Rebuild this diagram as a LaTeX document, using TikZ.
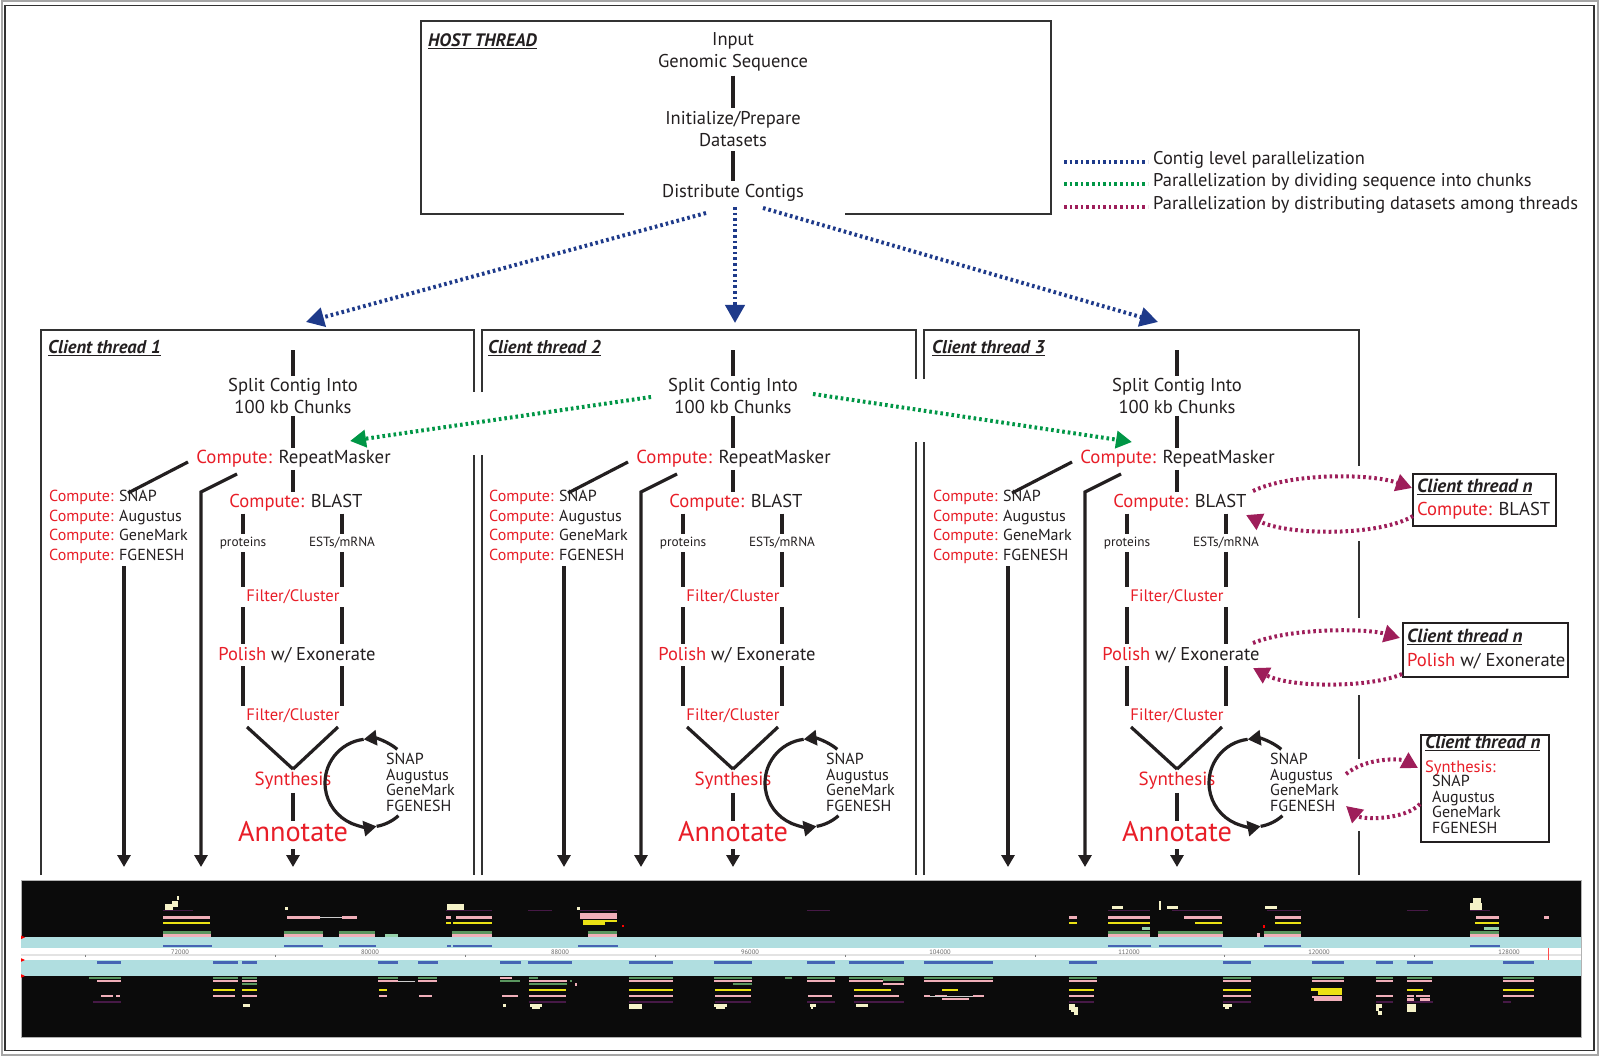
\documentclass[tikz,border=0pt]{standalone}
\usepackage{fontspec}
\setmainfont{PT Sans}
\usetikzlibrary{arrows.meta}
\definecolor{cred}{RGB}{232,30,40}
\definecolor{ctext}{RGB}{35,31,32}
\definecolor{cnavy}{RGB}{30,58,138}
\definecolor{cgreen}{RGB}{0,150,70}
\definecolor{cpink}{RGB}{158,30,90}
\definecolor{cframe}{RGB}{50,50,50}
\definecolor{cblack}{RGB}{11,11,11}
\definecolor{ccyan}{RGB}{176,222,224}
\definecolor{cblue}{RGB}{70,100,180}
\definecolor{cpinkb}{RGB}{240,175,185}
\definecolor{cyel}{RGB}{235,225,20}
\definecolor{cgreenb}{RGB}{90,150,95}
\definecolor{ccream}{RGB}{245,242,200}
\definecolor{cpurp}{RGB}{70,25,70}
\definecolor{clgreen}{RGB}{150,210,170}
\newcommand\rd[1]{\textcolor{cred}{#1}}
\newcommand\fsz[2]{\fontsize{#1}{#2}\selectfont}
\newcommand\ttl[1]{\textbf{\textit{\underline{#1}}}}
% genome browser feature helpers
\newcommand\rx[5]{\fill[#1] (#2,#3) rectangle (#4,#5);}
\newcommand\tcr[2]{\fill[ccream] (#1,906.3) rectangle (#2,909.2);}
\newcommand\tpu[2]{\fill[cpurp] (#1,910.1) rectangle (#2,911.4);}
\newcommand\tpk[2]{\fill[cpinkb] (#1,916.2) rectangle (#2,918.8);}
\newcommand\tye[2]{\fill[cyel] (#1,921.7) rectangle (#2,924.3);}
\newcommand\tgp[2]{\fill[cgreenb] (#1,931) rectangle (#2,933.8);\fill[cpinkb] (#1,934) rectangle (#2,936.8);}
\newcommand\tbl[2]{\fill[cblue] (#1,944.6) rectangle (#2,947.4);}
\newcommand\bbl[2]{\fill[cblue] (#1,961.1) rectangle (#2,963.9);}
\newcommand\bgp[2]{\fill[cgreenb] (#1,976.6) rectangle (#2,979.4);\fill[cpinkb] (#1,979.7) rectangle (#2,982.4);}
\newcommand\bye[2]{\fill[cyel] (#1,988.7) rectangle (#2,991.3);}
\newcommand\bpk[2]{\fill[cpinkb] (#1,994.7) rectangle (#2,997.3);}
\newcommand\bpu[2]{\fill[cpurp] (#1,1001.3) rectangle (#2,1002.7);}
\newcommand\bcr[2]{\fill[ccream] (#1,1003.7) rectangle (#2,1006.5);}

\tikzset{
 txt/.style={text=ctext, inner sep=3pt, align=center},
 flow/.style={line width=3.2pt, draw=ctext},
 flowarr/.style={flow, -{Triangle[width=13pt,length=12pt]}},
 loopar/.style={flow, -{Triangle[width=15pt,length=13pt]}},
 frame/.style={line width=2pt, draw=cframe},
 bdots/.style={line width=4pt, draw=cnavy, dash pattern=on 2.6pt off 3pt},
 bdotar/.style={bdots, -{Triangle[width=19pt,length=18pt]}},
 gdots/.style={line width=4pt, draw=cgreen, dash pattern=on 2.6pt off 3pt},
 gdotar/.style={gdots, -{Triangle[width=17pt,length=16pt]}},
 pdots/.style={line width=4pt, draw=cpink, dash pattern=on 2.6pt off 3pt},
 pdotar/.style={pdots, -{Triangle[width=17pt,length=16pt]}},
 nbox/.style={draw=ctext, line width=1.8pt, inner sep=0pt},
 ntxt/.style={text=ctext, anchor=west, inner sep=0pt, align=left},
 legtxt/.style={text=ctext, anchor=west, inner sep=0pt, font=\fsz{18.4}{20}},
}

\newcommand\ClientThread[3]{%
\begin{scope}[xshift=#1]
 \node[txt, anchor=west, font=\fsz{18.5}{20}] (ttl#2) at (45,348) {\ttl{Client thread #3}};
 \coordinate (top#2) at (293,350);
 \coordinate (cc#2) at (293,0);
 \coordinate (cl#2) at (243,0);
 \coordinate (cr#2) at (342,0);
 \node[txt, font=\fsz{18.6}{22}, inner sep=2pt] (split#2) at (293,396) {Split Contig Into\\100 kb Chunks};
 \draw[flow] (top#2) -- (split#2.north);
 \node[txt, font=\fsz{18.8}{20}, inner ysep=2pt] (rm#2) at (293.5,459) {\rd{Compute:} RepeatMasker};
 \draw[flow] (split#2.south) -- (rm#2.north -| split#2.south);
 \node[txt, font=\fsz{18.6}{20}, inner ysep=2pt] (blast#2) at (296,503) {\rd{Compute:} BLAST};
 \draw[flow] (rm#2.south -| cc#2) -- (blast#2.north -| cc#2);
 \node[txt, font=\fsz{13.3}{15}] (prot#2) at (243,543) {proteins};
 \node[txt, font=\fsz{13.3}{15}] (est#2) at (342,543) {ESTs/mRNA};
 \node[txt, font=\fsz{16.6}{18}] (fa#2) at (293,597) {\rd{Filter/Cluster}};
 \node[txt, font=\fsz{18.5}{20}, inner ysep=3pt] (pol#2) at (297,655) {\rd{Polish} w/ Exonerate};
 \node[txt, font=\fsz{16.6}{18}] (fb#2) at (293,716) {\rd{Filter/Cluster}};
 \node[txt, font=\fsz{19}{21}] (syn#2) at (293,781) {\rd{Synthesis}};
 \node[txt, font=\fsz{28.3}{30}, inner ysep=1pt] (ann#2) at (293,832) {\rd{Annotate}};
 \foreach \c/\n in {cl#2/prot#2, cr#2/est#2} {
  \draw[flow] (blast#2.south -| \c) -- (\n.north);
  \draw[flow] (\n.south) -- (fa#2.north -| \c);
  \draw[flow] (fa#2.south -| \c) -- (pol#2.north -| \c);
  \draw[flow] (pol#2.south -| \c) -- (fb#2.north -| \c);
 }
 \coordinate (vl#2) at (247,727);
 \coordinate (vr#2) at (338,727);
 \draw[flow] (vl#2) -- (syn#2.north);
 \draw[flow] (vr#2) -- (syn#2.north);
 \draw[flow] (syn#2.south) -- (ann#2.north);
 \coordinate (aa#2) at (293,849);
 \coordinate (ae#2) at (293,867);
 \draw[flowarr] (aa#2) -- (ae#2);
 % gene predictor branch
 \node[txt, anchor=north west, align=left, font=\fsz{16}{19.6}] (pred#2) at (46,487)
   {\rd{Compute:} SNAP\\\rd{Compute:} Augustus\\\rd{Compute:} GeneMark\\\rd{Compute:} FGENESH};
 \coordinate (da#2) at (188,462);
 \coordinate (db#2) at (128,493);
 \draw[flow] (da#2) -- (db#2);
 \coordinate (pa#2) at (124,566);
 \coordinate (pe#2) at (124,867);
 \draw[flowarr] (pa#2) -- (pe#2);
 \coordinate (ea#2) at (237,474);
 \coordinate (eb#2) at (201,492);
 \coordinate (ee#2) at (201,867);
 \draw[flowarr, line join=miter] (ea#2) -- (eb#2) -- (ee#2);
 % synthesis loop
 \coordinate (lc#2) at (369,783);
 \draw[loopar] (lc#2) ++(-50:44) arc[start angle=-50, end angle=-97, radius=44];
 \draw[loopar] (lc#2) ++(-97:44) arc[start angle=-97, end angle=-280, radius=44];
 \draw[flow] (lc#2) ++(-280:44) arc[start angle=-280, end angle=-312, radius=44];
 \node[txt, anchor=north west, align=left, font=\fsz{16}{15.7}] (gl#2) at (383,750)
   {SNAP\\Augustus\\GeneMark\\FGENESH};
\end{scope}}

\begin{document}
\begin{tikzpicture}[x=1pt,y=-1pt]
\useasboundingbox (0,0) rectangle (1600,1056);
\fill[white] (0,0) rectangle (1600,1056);
% outer frame
\draw[line width=2pt, draw=gray!70] (1.5,1.5) rectangle (1598,1054.5);
\draw[line width=1.5pt, draw=cframe] (5,5.5) rectangle (1594,1050.5);

% host thread
\draw[frame] (624,214) -- (421,214) -- (421,21) -- (1051,21) -- (1051,214) -- (845,214);
\node[txt, anchor=west, font=\fsz{18}{20}] (host) at (425,41) {\ttl{HOST THREAD}};
\node[txt, font=\fsz{18.5}{22}, inner ysep=4pt] (inp) at (733,52) {Input\\Genomic Sequence};
\node[txt, font=\fsz{18.5}{22}, inner ysep=4pt] (ini) at (733,129.5) {Initialize/Prepare\\Datasets};
\node[txt, font=\fsz{18.5}{22}, inner ysep=3pt] (dis) at (733,193) {Distribute Contigs};
\draw[flow] (inp.south) -- (ini.north);
\draw[flow] (ini.south) -- (dis.north);

% legend
\coordinate (lb0) at (1064,162); \coordinate (lb1) at (1148,162);
\coordinate (lg0) at (1064,184); \coordinate (lg1) at (1148,184);
\coordinate (lp0) at (1064,207); \coordinate (lp1) at (1148,207);
\draw[bdots] (lb0) -- (lb1);
\draw[gdots] (lg0) -- (lg1);
\draw[pdots] (lp0) -- (lp1);
\node[legtxt] (lbt) at (1153,160) {Contig level parallelization};
\node[legtxt] (lgt) at (1153,182) {Parallelization by dividing sequence into chunks};
\node[legtxt] (lpt) at (1153,205) {Parallelization by distributing datasets among threads};

% client thread boxes
\draw[frame] (41,875) -- (41,330) -- (474,330) -- (474,392);
\draw[frame] (474,455) -- (474,875);
\draw[frame] (482,875) -- (482,455);
\draw[frame] (482,392) -- (482,330) -- (916,330) -- (916,379);
\draw[frame] (916,442) -- (916,875);
\draw[frame] (924,875) -- (924,442);
\draw[frame] (924,379) -- (924,330) -- (1359,330) -- (1359,466);
\draw[frame] (1359,541) -- (1359,618);
\draw[frame] (1359,695) -- (1359,759);
\draw[frame] (1359,831) -- (1359,875);

\ClientThread{0pt}{A}{1}
\ClientThread{440pt}{B}{2}
\ClientThread{884pt}{C}{3}

% blue arrows
\coordinate (bl0) at (706,213); \coordinate (bl1) at (306,322);
\coordinate (bm0) at (735,207); \coordinate (bm1) at (735,323);
\coordinate (br0) at (763,208); \coordinate (br1) at (1158,322);
\draw[bdotar] (bl0) -- (bl1);
\draw[bdotar] (bm0) -- (bm1);
\draw[bdotar] (br0) -- (br1);

% green arrows
\coordinate (g0) at (651,397); \coordinate (g1) at (350,441);
\coordinate (g2) at (813,394); \coordinate (g3) at (1132,442);
\draw[gdotar] (g0) -- (g1);
\draw[gdotar] (g2) -- (g3);

% client thread n boxes
\node[nbox, minimum width=143pt, minimum height=52pt] (n1) at (1484.5,500) {};
\node[ntxt, font=\fsz{19}{20}] (n1t) at (1417,487) {\ttl{Client thread n}};
\node[ntxt, font=\fsz{18.6}{20}] (n1b) at (1417,511) {\rd{Compute:} BLAST};
\node[nbox, minimum width=165pt, minimum height=54pt] (n2) at (1485.5,650) {};
\node[ntxt, font=\fsz{19}{20}] (n2t) at (1407,637) {\ttl{Client thread n}};
\node[ntxt, font=\fsz{18.6}{20}] (n2b) at (1407,661) {\rd{Polish} w/ Exonerate};
\node[nbox, minimum width=128pt, minimum height=107pt] (n3) at (1485,788.5) {};
\node[ntxt, font=\fsz{19}{20}] (n3t) at (1425,743) {\ttl{Client thread n}};
\node[ntxt, font=\fsz{16.5}{18}] (n3s) at (1425,768) {\rd{Synthesis:}};
\node[ntxt, anchor=north west, font=\fsz{16}{15.6}] (n3l) at (1432,775) {SNAP\\Augustus\\GeneMark\\FGENESH};

% pink arrows
\coordinate (pb0) at (1253,491); \coordinate (pb1) at (1412,488);
\coordinate (pb2) at (1413,516); \coordinate (pb3) at (1246,515);
\draw[pdotar] (pb0) .. controls (1290,473) and (1370,473) .. (pb1);
\draw[pdotar] (pb2) .. controls (1380,536) and (1290,536) .. (pb3);
\coordinate (pp0) at (1253,643); \coordinate (pp1) at (1400,638);
\coordinate (pp2) at (1402,674); \coordinate (pp3) at (1253,668);
\draw[pdotar] (pp0) .. controls (1290,628) and (1365,628) .. (pp1);
\draw[pdotar] (pp2) .. controls (1370,688) and (1290,688) .. (pp3);
\coordinate (ps0) at (1346,774); \coordinate (ps1) at (1418,768);
\coordinate (ps2) at (1420,804); \coordinate (ps3) at (1346,806);
\draw[pdotar] (ps0) .. controls (1365,758) and (1400,758) .. (ps1);
\draw[pdotar] (ps2) .. controls (1405,820) and (1362,820) .. (ps3);

% genome browser panel
\fill[cblack] (21,880) rectangle (1581,1037);
\draw[gray!60, line width=0.8pt] (21,880) rectangle (1581,1037);
\fill[ccyan] (21,937.3) rectangle (1581,947.7);
\fill[white] (21,947.7) rectangle (1581,960);
\fill[gray!22] (21,954.4) rectangle (1581,956.4);
\fill[ccyan] (21,960) rectangle (1581,976);
\fill[red] (21,935.5) -- (25,937.3) -- (21,939.1) -- cycle;
\fill[red] (21,958.2) -- (25,960) -- (21,961.8) -- cycle;
\fill[red] (21,974.2) -- (25,976) -- (21,977.8) -- cycle;
\draw[red!70, line width=0.8pt] (1548,948) -- (1548,960);
\foreach \t in {85,275,465,655,845,1035,1224,1414} {\draw[gray, line width=0.5pt] (\t,954.5) -- (\t,956.5);}
\foreach \t/\l in {180/72000,370/80000,560/88000,750/96000,940/104000,1129/112000,1319/120000,1509/128000}
 {\node[text=gray!80!black, font=\fsz{6.5}{7}, inner sep=0pt] at (\t,952.3) {\l};}
% top strand
\rx{ccream}{165}{904}{173}{910}\rx{ccream}{172}{901}{178}{907}\rx{ccream}{177}{896}{179}{900}
\tpu{163}{193}\tpk{163}{210}\tye{163}{210}\tgp{163}{211}\tbl{163}{212}
\rx{ccream}{285}{906.5}{287.5}{909.5}\tpk{287}{320}\rx{gray!40}{320}{917}{342}{918}\tpk{342}{357}
\tgp{284}{323}\tgp{339}{375}\tbl{284}{323}\tbl{339}{376}\rx{clgreen}{385}{934}{398}{936.8}
\rx{ccream}{447}{904}{464}{909.5}\tpu{446}{492}\tpk{446}{451}\tpk{456}{492}\tye{446}{451}\tye{453}{492}
\tgp{452}{492}\tbl{447}{451}\tbl{453}{492}
\tpu{528}{552}
\rx{ccream}{577}{906.5}{580}{909.5}\tpu{580}{617}\rx{cpinkb}{580}{913}{617}{915.6}\tpk{580}{617}
\rx{cyel}{583}{919.6}{617}{922}\rx{cyel}{583}{922.3}{605}{924.6}\tgp{588}{617}\tbl{578}{618}
\rx{red}{622}{925}{624}{927}
\tpu{807}{830}\tpk{1069}{1077}\tye{1069}{1077}
\tcr{1112}{1123}\tpu{1108}{1150}\tpk{1108}{1150}\tye{1108}{1150}\rx{clgreen}{1142}{927}{1150}{929.6}
\tgp{1108}{1150}\tbl{1108}{1151}
\rx{ccream}{1159}{901}{1161}{910}\tcr{1167}{1178}\tpu{1172}{1220}\tpk{1184}{1222}\tye{1195}{1222}
\tgp{1158}{1223}\tbl{1159}{1222}
\tcr{1265}{1277}\tpu{1267}{1301}\tpk{1275}{1301}\tye{1275}{1301}\rx{red}{1263}{925}{1265}{927.5}
\rx{cpinkb}{1257}{933}{1260}{937}\tgp{1264}{1301}\tbl{1264}{1301}
\tpu{1407}{1428}
\rx{ccream}{1470}{903}{1482}{909.5}\rx{ccream}{1473}{898}{1481}{903}\tpu{1470}{1490}\tpk{1476}{1499}
\tye{1475}{1499}\rx{clgreen}{1484}{927}{1499}{930}\tgp{1470}{1499}\tbl{1470}{1500}\tpk{1544}{1549}
% bottom strand
\bbl{97}{121}\rx{cgreenb}{89}{976.6}{121}{979.4}\rx{cpinkb}{97}{979.7}{121}{982.4}\bpk{101}{113}\bpk{116}{120}\bpu{93}{121}
\bbl{213}{238}\bgp{213}{238}\bye{213}{235}\bpk{213}{235}
\bbl{242}{257}\bgp{242}{257}\rx{cgreenb}{242}{982.6}{257}{985.2}\bye{242}{257}\bpk{242}{257}\bcr{243}{250}
\bbl{378}{398}\bgp{378}{398}\rx{gray!40}{398}{980.6}{415}{981.4}\bye{379}{387}\bpk{379}{387}
\bbl{418}{438}\bgp{418}{437}\bpk{419}{432}
\bbl{500}{521}\rx{cpinkb}{500}{976.6}{512}{979.4}\rx{cgreenb}{500}{979.7}{520}{982.4}\bpk{502}{518}\rx{ccream}{503}{1003.7}{506}{1006.5}
\bbl{528}{572}\rx{cgreenb}{529}{976.6}{538}{979.4}\rx{cpinkb}{529}{979.7}{567}{982.4}\rx{cgreenb}{529}{982.6}{567}{985.2}
\rx{cgreenb}{570}{979.7}{572}{982}\rx{cpinkb}{575}{983}{577}{985.5}\bye{529}{566}\bpk{529}{566}\bpu{529}{566}
\bcr{530}{542}\rx{ccream}{532}{1006.5}{540}{1009}
\bbl{629}{673}\bgp{629}{673}\bye{629}{673}\bpk{629}{673}\bpu{629}{673}\rx{ccream}{629}{1003.5}{642}{1009}
\bbl{714}{752}\bgp{714}{752}\rx{cgreenb}{733}{982.6}{752}{985.4}\bye{715}{751}\bpk{715}{751}\bpu{715}{751}
\bcr{714}{727}\rx{ccream}{716}{1006.5}{725}{1009}
\rx{cgreenb}{785}{976.6}{792}{979.4}
\bbl{807}{835}\bgp{807}{835}\bpk{808}{832}\bpu{807}{835}\bcr{810}{816}\rx{ccream}{811}{1006.5}{813}{1009}
\bbl{849}{904}\bgp{849}{883}\rx{cgreenb}{883}{976.6}{904}{981}\rx{cpinkb}{883}{982.6}{904}{985.4}
\bye{854}{891}\bpk{854}{899}\bpu{854}{904}\bcr{856}{868}
\bbl{924}{993}\bgp{924}{993}\bye{942}{958}\bpk{924}{930}\bpk{935}{947}\bpk{973}{984}
\rx{gray!40}{930}{995.5}{973}{996.5}\rx{cpinkb}{942}{997.8}{969}{1000.4}
\bbl{1069}{1097}\bgp{1069}{1097}\bye{1069}{1094}\bpk{1069}{1094}\bpu{1069}{1094}
\bcr{1069}{1075}\rx{ccream}{1069}{1006.5}{1078}{1009.5}\rx{ccream}{1071}{1009.5}{1078}{1012}\rx{ccream}{1074}{1012}{1078}{1015}
\bbl{1223}{1251}\bgp{1223}{1251}\bye{1223}{1251}\bpk{1223}{1251}\bpu{1223}{1251}\bcr{1223}{1232}\rx{ccream}{1225}{1006.5}{1229}{1009}
\bbl{1312}{1344}\bgp{1312}{1344}\rx{cyel}{1311}{988}{1342}{990.5}\rx{cyel}{1318}{990.7}{1342}{993}\rx{cyel}{1318}{993.2}{1342}{995.3}
\rx{cpinkb}{1312}{995.6}{1342}{998}\rx{cpinkb}{1314}{998.2}{1342}{1000.8}
\bbl{1376}{1393}\bgp{1376}{1393}\bpk{1376}{1393}\bpu{1376}{1393}\rx{ccream}{1376}{1003.7}{1382}{1008}
\rx{ccream}{1376}{1008}{1379}{1011}\rx{ccream}{1378}{1011}{1382}{1015}
\bbl{1407}{1433}\bgp{1407}{1432}\bye{1407}{1423}\rx{cpinkb}{1407}{994.7}{1414}{997.3}\rx{cpinkb}{1416}{994.7}{1430}{997.3}
\rx{cpinkb}{1407}{998}{1414}{1000.6}\rx{cpinkb}{1420}{998}{1430}{1000.6}\bpu{1407}{1433}\rx{ccream}{1407}{1003.7}{1416}{1012}
\bbl{1503}{1534}\bgp{1503}{1534}\bye{1503}{1534}\bpk{1503}{1534}\bpu{1503}{1511}
\end{tikzpicture}
\end{document}
